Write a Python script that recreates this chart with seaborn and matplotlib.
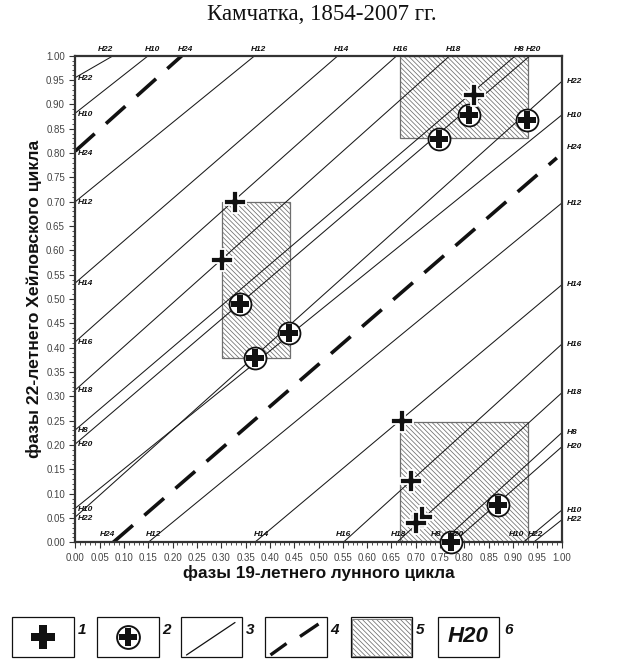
import numpy as np
import pandas as pd
import matplotlib
matplotlib.use("Agg")
import matplotlib.pyplot as plt
import seaborn as sns
from matplotlib.path import Path
from matplotlib.patches import Rectangle

# ---------------- data ----------------
title = "Камчатка, 1854-2007 гг."
xlabel = "фазы 19-летнего лунного цикла"
ylabel = "фазы 22-летнего Хейловского цикла"

# phase lines running from the left edge (x=0) to the top edge (y=1)
lt_labels = ["H22", "H10", "H12", "H14", "H16", "H18", "H8", "H20"]
lt_y_left = [0.955, 0.882, 0.700, 0.533, 0.412, 0.313, 0.231, 0.202]
lt_x_top = [0.078, 0.150, 0.369, 0.540, 0.661, 0.770, 0.905, 0.935]

# phase lines running from the bottom edge (y=0) to the right edge (x=1)
br_labels = ["H12", "H14", "H16", "H18", "H8", "H20", "H10", "H22"]
br_x_bottom = [0.150, 0.369, 0.551, 0.661, 0.753, 0.777, 0.921, 0.942]
br_y_right = [0.697, 0.529, 0.407, 0.307, 0.225, 0.196, 0.066, 0.046]

# phase lines running from the left edge to the right edge
lr_labels = ["H10", "H22"]
lr_y_left = [0.070, 0.052]
lr_y_right = [0.878, 0.947]

# H24 line (dashed), two segments
h24_x_start = [0.0, 0.078]
h24_y_start = [0.804, 0.0]
h24_x_end = [0.219, 0.99]
h24_y_end = [1.0, 0.79]

# type 1 events (plus)
plus_x = [0.328, 0.301, 0.820, 0.671, 0.690, 0.712, 0.700]
plus_y = [0.699, 0.580, 0.919, 0.250, 0.126, 0.052, 0.039]

# type 2 events (circled plus)
circ_x = [0.339, 0.369, 0.440, 0.748, 0.809, 0.928, 0.772, 0.870]
circ_y = [0.489, 0.378, 0.430, 0.829, 0.878, 0.868, 0.000, 0.077]

# hatched regions
box_x0 = [0.301, 0.668, 0.668]
box_x1 = [0.441, 0.931, 0.931]
box_y0 = [0.378, 0.830, 0.000]
box_y1 = [0.699, 1.000, 0.247]

legend_numbers = ["1", "2", "3", "4", "5", "6"]
legend_text = "H20"

# ---------------- style ----------------
sns.set_style("ticks")
plt.rcParams["font.family"] = ["Liberation Sans", "DejaVu Sans"]
plt.rcParams["hatch.linewidth"] = 0.55

HATCH = "\\" * 7
HATCH_COLOR = "#6e6e6e"
W, H = 643, 660
fig = plt.figure(figsize=(W / 100, H / 100), dpi=100)
ax = fig.add_axes([75.3 / W, (H - 542.3) / H, 486.4 / W, 486.6 / H])


def plus_marker(t):
    h = 0.5
    verts = [(-t, h), (t, h), (t, t), (h, t), (h, -t), (t, -t), (t, -h),
             (-t, -h), (-t, -t), (-h, -t), (-h, t), (-t, t), (-t, h)]
    codes = [Path.MOVETO] + [Path.LINETO] * 11 + [Path.CLOSEPOLY]
    return Path(verts, codes)


PLUS = plus_marker(0.145)
PLUS_IN = plus_marker(0.15)

# hatched regions
for x0, x1, y0, y1 in zip(box_x0, box_x1, box_y0, box_y1):
    ax.add_patch(Rectangle((x0, y0), x1 - x0, y1 - y0, facecolor="white",
                           edgecolor=HATCH_COLOR, hatch=HATCH, lw=0.9, zorder=1))

# thin phase lines
rows = []
seg = 0
for y0, x1 in zip(lt_y_left, lt_x_top):
    rows += [(seg, 0.0, y0), (seg, x1, 1.0)]
    seg += 1
for x0, y1 in zip(br_x_bottom, br_y_right):
    rows += [(seg, x0, 0.0), (seg, 1.0, y1)]
    seg += 1
for y0, y1 in zip(lr_y_left, lr_y_right):
    rows += [(seg, 0.0, y0), (seg, 1.0, y1)]
    seg += 1
lines_df = pd.DataFrame(rows, columns=["seg", "x", "y"])
sns.lineplot(data=lines_df, x="x", y="y", units="seg", estimator=None, sort=False,
             color="#1a1a1a", lw=0.75, ax=ax, zorder=2, legend=False)

# dashed H24
rows = []
for i, (xs, ys, xe, ye) in enumerate(zip(h24_x_start, h24_y_start, h24_x_end, h24_y_end)):
    rows += [(i, xs, ys), (i, xe, ye)]
h24_df = pd.DataFrame(rows, columns=["seg", "x", "y"])
n_before = len(ax.lines)
sns.lineplot(data=h24_df, x="x", y="y", units="seg", estimator=None, sort=False,
             color="#111111", lw=2.6, ax=ax, zorder=2, legend=False)
for ln in ax.lines[n_before:]:
    ln.set_dashes((7.2, 4.2))
    ln.set_dash_capstyle("butt")

# circled plus markers
sns.scatterplot(x=circ_x, y=circ_y, marker="o", s=250, color="white",
                edgecolor="#111111", linewidth=1.3, ax=ax, zorder=4, clip_on=False,
                legend=False)
sns.scatterplot(x=circ_x, y=circ_y, marker=PLUS_IN, s=150, color="#111111",
                linewidth=0, ax=ax, zorder=5, clip_on=False, legend=False)

# plus markers
sns.scatterplot(x=plus_x, y=plus_y, marker=PLUS, s=230, color="#111111",
                edgecolor="white", linewidth=1.3, ax=ax, zorder=6, clip_on=False,
                legend=False)

# line labels
lab_kw = dict(fontsize=6, fontweight="bold", fontstyle="italic", color="#111111",
              zorder=7, clip_on=False)
for lab, y0, x1 in zip(lt_labels, lt_y_left, lt_x_top):
    ax.text(0.005, y0 - 0.002, lab, ha="left", va="center", **lab_kw)
    dx = -0.015 if lab == "H22" else 0.008
    ax.text(x1 + dx, 1.006, lab, ha="center", va="bottom", **lab_kw)
bottom_dx = {"H12": 0.01, "H14": 0.013, "H16": 0.0, "H18": 0.003, "H8": -0.012,
             "H20": 0.006, "H10": -0.014, "H22": 0.004}
for lab, x0, y1 in zip(br_labels, br_x_bottom, br_y_right):
    ax.text(x0 + bottom_dx[lab], 0.008, lab, ha="center", va="bottom", **lab_kw)
    ax.text(1.01, y1, lab, ha="left", va="center", **lab_kw)
for lab, y0, y1 in zip(lr_labels, lr_y_left, lr_y_right):
    ax.text(0.005, y0 - 0.003, lab, ha="left", va="center", **lab_kw)
    ax.text(1.01, y1, lab, ha="left", va="center", **lab_kw)
ax.text(0.005, h24_y_start[0] - 0.006, "H24", ha="left", va="center", **lab_kw)
ax.text(h24_x_end[0] + 0.008, 1.006, "H24", ha="center", va="bottom", **lab_kw)
ax.text(h24_x_start[1] - 0.012, 0.008, "H24", ha="center", va="bottom", **lab_kw)
ax.text(1.01, 0.812, "H24", ha="left", va="center", **lab_kw)

# axes
ax.set_xlim(0, 1)
ax.set_ylim(0, 1)
ticks = np.round(np.arange(0, 1.0001, 0.05), 2)
ax.set_xticks(ticks)
ax.set_yticks(ticks)
ax.set_xticklabels([f"{t:.2f}" for t in ticks])
ax.set_yticklabels([f"{t:.2f}" for t in ticks])
ax.set_xticks(np.arange(0, 1.0001, 0.01), minor=True)
ax.set_yticks(np.arange(0, 1.0001, 0.01), minor=True)
ax.tick_params(which="major", length=4, width=0.8, color="#333333",
               labelsize=7, labelcolor="#444444", pad=3.5)
ax.tick_params(which="minor", length=2.3, width=0.6, color="#333333")
for sp in ax.spines.values():
    sp.set_visible(True)
    sp.set_linewidth(1.6)
    sp.set_color("#333333")
ax.set_xlabel(xlabel, fontsize=12.3, fontweight="bold", labelpad=2, color="#111111")
ax.set_ylabel(ylabel, fontsize=12.6, fontweight="bold", labelpad=3, color="#111111")

fig.text(0.5, 1 - 15 / H, title, ha="center", va="center",
         fontsize=16.5, fontfamily="Liberation Serif", color="#111111")

# ---------------- legend strip ----------------
leg = fig.add_axes([0, 0, 1, 1], zorder=10)
leg.set_xlim(0, W)
leg.set_ylim(H, 0)
leg.axis("off")
leg.patch.set_alpha(0)

box_left = [12, 97, 180.5, 265, 350.5, 437.5]
box_w = 61.5
top, bottom = 617, 657
num_x = [82, 166, 250, 334.5, 420, 508.5]
for i, bl in enumerate(box_left):
    leg.add_patch(Rectangle((bl, top), box_w, bottom - top, facecolor="white",
                            edgecolor="#111111", lw=0.9, zorder=1))
    leg.text(num_x[i], 630, legend_numbers[i], ha="center", va="center",
             fontsize=11, fontweight="bold", fontstyle="italic", color="#111111")
leg.add_patch(Rectangle((box_left[4] + 1.5, top + 1.5), box_w - 3, bottom - top - 3,
                        facecolor="white", edgecolor=HATCH_COLOR, lw=0.6,
                        hatch=HATCH, zorder=2))
cy = 637
leg.scatter([box_left[0] + box_w / 2], [cy], marker=plus_marker(0.165), s=300,
            color="#111111", linewidths=0, zorder=3)
leg.scatter([box_left[1] + box_w / 2], [cy], marker="o", s=270, facecolor="white",
            edgecolor="#111111", linewidths=1.4, zorder=3)
leg.scatter([box_left[1] + box_w / 2], [cy], marker=plus_marker(0.15), s=160,
            color="#111111", linewidths=0, zorder=4)
leg.plot([186.5, 235], [655, 622.5], color="#111111", lw=0.9, zorder=3)
leg.plot([270.5, 286.5], [655, 643.5], color="#111111", lw=2.4,
         solid_capstyle="butt", zorder=3)
leg.plot([300, 318.5], [636.5, 624], color="#111111", lw=2.4,
         solid_capstyle="butt", zorder=3)
leg.text(box_left[5] + box_w / 2, 637, legend_text, ha="center", va="center",
         fontsize=16, fontweight="bold", fontstyle="italic", color="#111111")

fig.savefig("out.png", dpi=100)
